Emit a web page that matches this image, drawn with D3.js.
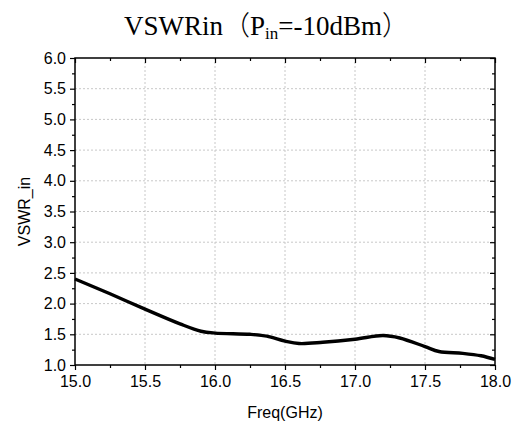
<!DOCTYPE html>
<html>
<head>
<meta charset="utf-8">
<script src="https://cdn.jsdelivr.net/npm/d3@7"></script>
<style>
  body { margin: 0; background: #fff; }
  svg { display: block; }
</style>
</head>
<body>
<div id="chart"></div>
<script>
var width = 518,
    height = 427;

// data
var freq = [15.0, 15.25, 15.5, 15.75, 15.9, 16.0, 16.25, 16.37, 16.5, 16.6, 16.77, 17.0, 17.2, 17.32, 17.5, 17.6, 17.77, 17.9, 18.0];
var vswr = [2.40, 2.16, 1.91, 1.67, 1.55, 1.52, 1.50, 1.47, 1.39, 1.35, 1.37, 1.42, 1.48, 1.44, 1.30, 1.22, 1.19, 1.15, 1.09];
var xTicks = [15.0, 15.5, 16.0, 16.5, 17.0, 17.5, 18.0];
var yTicks = [1.0, 1.5, 2.0, 2.5, 3.0, 3.5, 4.0, 4.5, 5.0, 5.5, 6.0];

var margin = {top: 58, right: 23, bottom: 62, left: 75};
var w = width - margin.left - margin.right,
    h = height - margin.top - margin.bottom;

var svg = d3.select("#chart").append("svg")
  .attr("width", width)
  .attr("height", height);

var g = svg.append("g")
  .attr("transform", "translate(" + margin.left + "," + margin.top + ")");

var x = d3.scaleLinear().domain([15, 18]).range([0, w]);
var y = d3.scaleLinear().domain([1, 6]).range([h, 0]);

// grid
g.append("g").selectAll("line")
  .data(xTicks.slice(1, -1))
  .enter().append("line")
  .attr("x1", d => x(d)).attr("x2", d => x(d))
  .attr("y1", 0).attr("y2", h)
  .attr("stroke", "#c8c8c8").attr("stroke-dasharray", "2,2");
g.append("g").selectAll("line")
  .data(yTicks.slice(1, -1))
  .enter().append("line")
  .attr("y1", d => y(d)).attr("y2", d => y(d))
  .attr("x1", 0).attr("x2", w)
  .attr("stroke", "#c8c8c8").attr("stroke-dasharray", "2,2");

var fmt = d3.format(".1f");
var minorX = d3.range(15.25, 18, 0.5);
var minorY = d3.range(1.25, 6, 0.5);

function styleAxis(sel) {
  sel.select(".domain").remove();
  sel.selectAll("line").attr("stroke", "#000").attr("stroke-width", 1.2);
  sel.selectAll("text")
    .attr("font-family", "Liberation Sans, Arial, sans-serif")
    .attr("font-size", 16)
    .attr("fill", "#000");
}

// bottom
g.append("g").attr("transform", "translate(0," + h + ")")
  .call(d3.axisBottom(x).tickValues(xTicks).tickFormat(fmt).tickSize(5).tickPadding(6))
  .call(styleAxis);
g.append("g").attr("transform", "translate(0," + h + ")")
  .call(d3.axisBottom(x).tickValues(minorX).tickFormat("").tickSize(3))
  .call(styleAxis);
// left
g.append("g")
  .call(d3.axisLeft(y).tickValues(yTicks).tickFormat(fmt).tickSize(5).tickPadding(4))
  .call(styleAxis);
g.append("g")
  .call(d3.axisLeft(y).tickValues(minorY).tickFormat("").tickSize(3))
  .call(styleAxis);
// top (inward)
g.append("g")
  .call(d3.axisTop(x).tickValues(xTicks).tickFormat("").tickSize(-5))
  .call(styleAxis);
g.append("g")
  .call(d3.axisTop(x).tickValues(minorX).tickFormat("").tickSize(-3))
  .call(styleAxis);
// right (inward)
g.append("g").attr("transform", "translate(" + w + ",0)")
  .call(d3.axisRight(y).tickValues(yTicks).tickFormat("").tickSize(-5))
  .call(styleAxis);
g.append("g").attr("transform", "translate(" + w + ",0)")
  .call(d3.axisRight(y).tickValues(minorY).tickFormat("").tickSize(-3))
  .call(styleAxis);

// frame
g.append("rect")
  .attr("width", w).attr("height", h)
  .attr("fill", "none").attr("stroke", "#000").attr("stroke-width", 1.5);

// curve
var pts = freq.map((f, i) => [f, vswr[i]]);
var line = d3.line()
  .x(d => x(d[0]))
  .y(d => y(d[1]))
  .curve(d3.curveCatmullRom.alpha(0.5));
g.append("path")
  .datum(pts)
  .attr("d", line)
  .attr("fill", "none")
  .attr("stroke", "#000")
  .attr("stroke-width", 3.4)
  .attr("stroke-linejoin", "round");

// axis titles
svg.append("text")
  .attr("x", margin.left + w / 2).attr("y", 418)
  .attr("text-anchor", "middle")
  .attr("font-family", "Liberation Sans, Arial, sans-serif")
  .attr("font-size", 16)
  .text("Freq(GHz)");
svg.append("text")
  .attr("transform", "translate(30," + (margin.top + h / 2) + ")rotate(-90)")
  .attr("text-anchor", "middle")
  .attr("font-family", "Liberation Sans, Arial, sans-serif")
  .attr("font-size", 16)
  .text("VSWR_in");

// title
var cjk = "Noto Sans CJK SC";
var title = svg.append("text")
  .attr("x", 124).attr("y", 35)
  .attr("font-family", "Liberation Serif, Times New Roman, serif")
  .attr("font-size", 27);
title.append("tspan").text("VSWRin");
title.append("tspan").attr("font-family", cjk).attr("font-weight", 300).text("（");
title.append("tspan").text("P");
title.append("tspan").attr("font-size", 17).attr("dy", 4).text("in");
title.append("tspan").attr("dy", -4).text("=-10dBm");
title.append("tspan").attr("font-family", cjk).attr("font-weight", 300).text("）");
</script>
</body>
</html>
